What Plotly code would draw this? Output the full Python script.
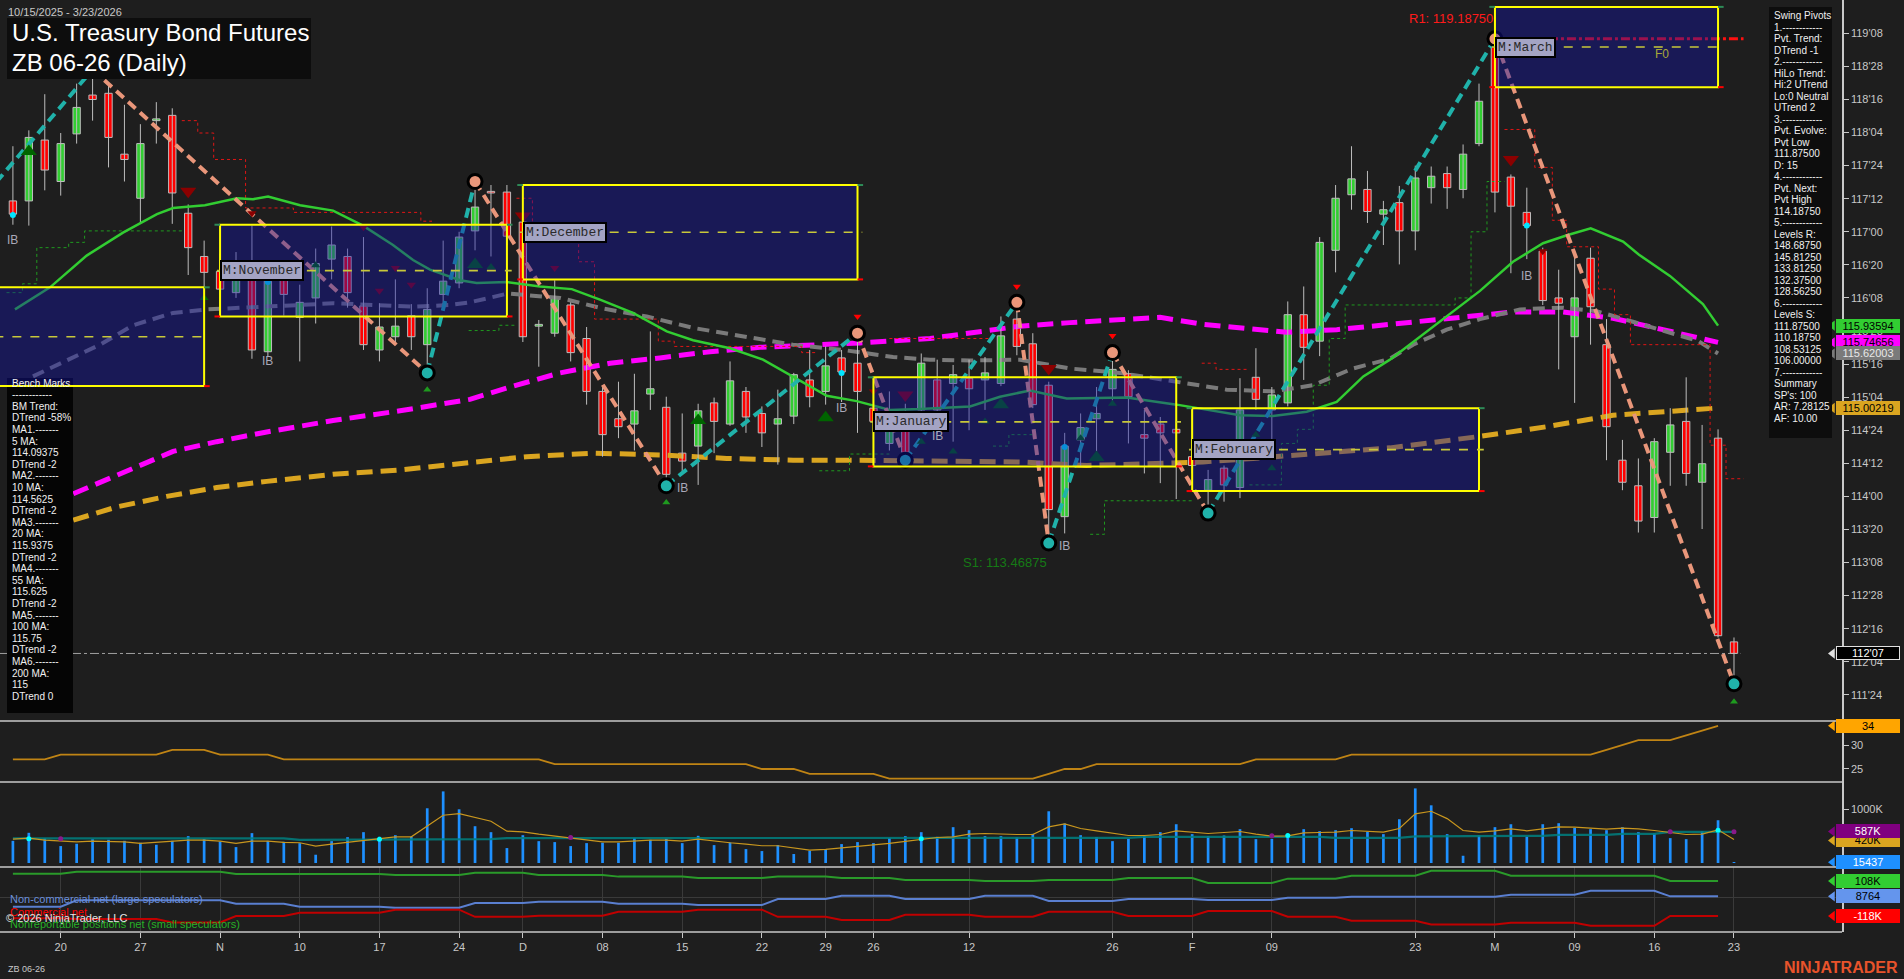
import plotly.graph_objects as go

# ------------------------------------------------------------------ DATA
date_range_text = "10/15/2025 - 3/23/2026"
title_line1 = "U.S. Treasury Bond Futures"
title_line2 = "ZB 06-26 (Daily)"

tick_idx = [3, 8, 13, 18, 23, 28, 32, 37, 42, 47, 51, 54, 60, 69, 74, 79, 88, 93, 98, 103, 108]
tick_text = ["20", "27", "N", "10", "17", "24", "D", "08", "15", "22", "29", "26", "12", "26", "F", "09",
             "23", "M", "09", "16", "23"]

opens = [117.35, 117.35, 118.04, 117.57, 118.11, 118.55, 118.57, 117.88, 117.38, 118.26,
         118.32, 117.21, 116.72, 116.55, 116.31, 116.51, 115.64, 116.55, 116.03, 116.25,
         116.69, 116.72, 116.16, 115.66, 115.81, 116.05, 115.72, 116.29, 116.42, 117.01,
         117.45, 117.45, 117.11, 115.93, 115.85, 116.17, 115.79, 115.19, 114.88, 114.82,
         115.16, 115.01, 114.49, 114.57, 115.06, 114.82, 115.19, 114.94, 114.82, 114.91,
         115.32, 115.19, 115.57, 115.51, 115.00, 114.60, 114.75, 114.98, 115.32, 115.28,
         115.34, 115.32, 115.28, 116.01, 115.73, 115.26, 113.77, 114.64, 114.88, 115.22,
         115.39, 114.70, 114.82, 114.76, 114.45, 114.07, 114.32, 114.10, 115.35, 114.98,
         115.06, 116.06, 115.76, 116.79, 117.42, 117.48, 117.20, 117.33, 117.01, 117.50,
         117.66, 117.48, 118.00, 119.16, 117.62, 117.22, 116.78, 116.25, 115.81, 116.70,
         115.72, 114.41, 114.12, 113.76, 114.50, 114.85, 114.16, 114.66, 112.35]
highs = [117.97, 118.15, 118.56, 118.12, 118.68, 118.84, 118.68, 118.44, 118.22, 118.47,
         118.40, 117.31, 116.90, 116.75, 116.77, 117.07, 116.50, 116.68, 116.40, 116.81,
         117.06, 116.81, 116.94, 116.19, 116.46, 116.18, 116.36, 116.90, 117.00, 117.57,
         117.53, 117.53, 117.15, 116.00, 116.45, 116.20, 115.92, 115.24, 115.30, 115.39,
         115.87, 115.13, 114.94, 115.05, 115.12, 115.53, 115.24, 115.02, 115.21, 115.40,
         115.66, 115.70, 115.66, 115.85, 115.30, 115.19, 115.05, 115.62, 115.55, 115.49,
         115.55, 115.58, 116.04, 116.20, 115.85, 115.30, 114.72, 114.94, 115.24, 115.63,
         115.43, 114.98, 114.90, 114.85, 114.98, 114.30, 114.35, 115.34, 115.68, 115.24,
         116.21, 116.38, 116.94, 117.53, 117.97, 117.69, 117.35, 117.52, 117.75, 117.74,
         117.74, 117.99, 118.68, 119.1875, 117.65, 117.50, 116.82, 116.57, 116.71, 116.82,
         116.01, 114.64, 114.43, 114.66, 115.00, 115.35, 114.81, 114.76, 112.40]
lows = [117.08, 117.07, 117.47, 117.41, 118.00, 118.26, 117.73, 117.57, 117.09, 118.00,
        117.09, 116.51, 116.38, 116.10, 116.25, 115.56, 115.59, 116.05, 115.53, 115.96,
        116.46, 116.14, 115.66, 115.53, 115.72, 115.66, 115.40, 116.18, 116.36, 116.79,
        116.72, 116.85, 115.75, 115.47, 115.81, 115.53, 115.04, 114.45, 114.66, 114.52,
        114.98, 114.12, 114.28, 114.13, 114.49, 114.80, 114.72, 114.56, 114.36, 114.82,
        115.01, 115.04, 115.07, 114.72, 114.65, 114.52, 114.41, 114.95, 114.71, 114.62,
        114.75, 114.98, 115.25, 115.60, 115.00, 113.47, 113.58, 114.34, 114.49, 115.05,
        114.60, 114.26, 114.15, 113.97, 114.26, 113.81, 113.94, 113.98, 114.98, 114.55,
        115.02, 115.32, 115.59, 116.54, 117.25, 117.10, 116.85, 116.63, 116.79, 117.32,
        117.26, 117.38, 117.97, 117.22, 116.53, 116.69, 116.17, 115.44, 115.06, 115.72,
        114.41, 114.07, 113.59, 113.59, 114.12, 114.12, 113.63, 112.40, 111.875]
closes = [117.20, 118.07, 117.70, 118.00, 118.41, 118.50, 118.07, 117.82, 118.00, 118.28,
          117.44, 116.82, 116.54, 116.35, 116.51, 115.66, 116.44, 116.29, 116.20, 116.64,
          116.85, 116.31, 115.72, 115.92, 115.93, 115.81, 116.12, 116.44, 116.94, 117.28,
          117.44, 116.95, 115.81, 115.95, 116.26, 115.63, 115.19, 114.70, 114.79, 114.97,
          115.22, 114.25, 114.40, 114.97, 114.85, 115.31, 114.90, 114.72, 114.88, 115.38,
          115.13, 115.48, 115.41, 115.19, 114.85, 114.94, 114.50, 115.51, 114.98, 115.38,
          115.22, 115.40, 115.82, 115.70, 115.04, 113.85, 114.57, 114.78, 114.94, 115.44,
          115.13, 114.66, 114.72, 114.72, 114.35, 114.19, 114.13, 114.98, 115.10, 115.15,
          116.06, 115.69, 116.88, 117.38, 117.60, 117.23, 117.25, 117.01, 117.61, 117.63,
          117.50, 117.88, 118.48, 117.45, 117.29, 117.07, 116.22, 116.19, 116.25, 116.15,
          114.79, 114.16, 113.72, 114.62, 114.81, 114.26, 114.37, 112.42, 112.22]

# volume (thousands)
volume_k = [413, 562, 457, 315, 358, 444, 432, 413, 377, 340,
            413, 500, 444, 401, 296, 556, 413, 395, 370, 154,
            407, 481, 574, 488, 518, 488, 1019, 1333, 1000, 685,
            574, 278, 518, 407, 389, 315, 370, 377, 377, 463,
            432, 450, 370, 506, 333, 383, 259, 222, 333, 167,
            228, 259, 352, 389, 370, 463, 500, 574, 488, 667,
            611, 500, 500, 475, 543, 963, 734, 518, 481, 407,
            450, 500, 574, 722, 537, 500, 512, 630, 444, 450,
            512, 630, 593, 611, 648, 580, 537, 815, 1389, 1074,
            537, 135, 512, 667, 722, 488, 722, 741, 654, 630,
            611, 667, 574, 549, 463, 444, 593, 796, 15.437]
vol_avg_fast = [444, 463, 426, 413, 395, 407, 407, 395, 364, 383,
                395, 426, 426, 407, 364, 407, 407, 383, 377, 315,
                352, 389, 426, 463, 488, 488, 685, 889, 920, 846,
                778, 593, 580, 537, 500, 457, 426, 395, 395, 413,
                426, 426, 407, 444, 407, 377, 352, 321, 321, 278,
                241, 253, 278, 315, 340, 364, 401, 438, 475, 488,
                537, 549, 537, 531, 531, 673, 728, 642, 599, 549,
                512, 512, 531, 599, 574, 549, 568, 586, 537, 500,
                506, 562, 568, 574, 605, 593, 574, 642, 914, 963,
                827, 605, 574, 599, 636, 599, 636, 673, 667, 648,
                630, 648, 636, 605, 574, 531, 537, 617, 438]
vol_avg_slow = [457, 457, 457, 457, 457, 457, 457, 457, 457, 457,
                457, 457, 457, 457, 457, 457, 457, 457, 432, 432,
                432, 432, 432, 444, 444, 444, 444, 444, 444, 444,
                444, 463, 463, 463, 463, 463, 463, 463, 463, 463,
                457, 457, 457, 457, 457, 457, 457, 457, 457, 457,
                457, 457, 457, 463, 463, 463, 463, 463, 463, 463,
                463, 469, 469, 469, 469, 469, 469, 469, 469, 469,
                469, 488, 488, 488, 488, 488, 488, 488, 488, 488,
                500, 488, 488, 469, 469, 469, 469, 469, 494, 494,
                494, 494, 494, 506, 506, 506, 506, 524, 524, 524,
                524, 543, 543, 543, 580, 580, 580, 580, 580]
vol_dot_cyan_idx = [1, 23, 57, 80, 107]
vol_dot_cyan_val = [450, 444, 450, 512, 611]
vol_dot_purple_idx = [3, 35, 79, 104, 108]
vol_dot_purple_val = [450, 475, 506, 580, 580]

# second panel oscillator
osc = [27, 27, 27, 28, 28, 28, 28, 28, 28, 28,
       29, 29, 29, 28, 28, 28, 28, 27, 27, 27,
       27, 27, 27, 27, 27, 27, 27, 27, 27, 27,
       27, 27, 27, 27, 26, 26, 26, 26, 26, 26,
       26, 26, 26, 26, 26, 26, 26, 25, 25, 25,
       24, 24, 24, 24, 24, 23, 23, 23, 23, 23,
       23, 23, 23, 23, 23, 24, 25, 25, 26, 26,
       26, 26, 26, 26, 26, 26, 26, 26, 27, 27,
       27, 27, 27, 27, 28, 28, 28, 28, 28, 28,
       28, 28, 28, 28, 28, 28, 28, 28, 28, 28,
       29, 30, 31, 31, 31, 32, 33, 34]

# COT weekly net positions (thousands), week start bar indices
cot_breaks = [0, 4, 10, 14, 18, 24, 29, 33, 38, 43, 48, 52, 56, 61, 65, 70, 75, 80, 84, 89, 94, 99, 104]
cot_last_bar = 107
cot_large = [-58, -17, -17, -39, -58, -65, -34, -26, -39, -47, -8, 13, -8, 13, -21, -8, -15, 0, 6, 6, 19, 45, 8.764]
cot_commercial = [-133, -138, -159, -118, -97, -77, -123, -116, -90, -77, -123, -144, -110, -123, -90, -118,
                  -86, -123, -148, -172, -161, -181, -118]
cot_small = [155, 168, 168, 153, 153, 147, 161, 147, 136, 127, 136, 127, 114, 108, 114, 127, 95, 123, 142,
             174, 142, 142, 108]

# moving averages (bar index, value)
ma20_idx = [0.13, 2.33, 4.63, 6.91, 9.04, 10.05, 12.05, 14.06, 15.07, 16.01, 18.02, 20.09, 21.97, 23.85,
            25.11, 26.17, 28.06, 29.1, 30.99, 33.08, 35.07, 36.84, 38.91, 41.03, 42.68, 45.0, 47.07, 48.95,
            51.07, 52.95, 55.04, 56.92, 60.06, 61.94, 63.82, 66.13, 69.89, 73.03, 77.0, 79.07, 81.19, 83.07,
            84.74, 86.41, 87.86, 89.97, 92.06, 94.13, 96.02, 97.52, 99.01, 101.04, 102.04, 103.98, 106.05,
            107.0]
ma20_val = [116.12, 116.37, 116.73, 116.99, 117.20, 117.27, 117.30, 117.38, 117.37, 117.40, 117.30, 117.24,
            117.07, 116.85, 116.68, 116.57, 116.45, 116.42, 116.43, 116.38, 116.35, 116.23, 116.08, 115.87,
            115.77, 115.68, 115.55, 115.36, 115.14, 115.08, 114.98, 114.99, 115.02, 115.13, 115.20, 115.11,
            115.12, 115.04, 114.92, 114.91, 114.96, 115.07, 115.36, 115.55, 115.75, 116.04, 116.33, 116.66,
            116.87, 116.96, 117.04, 116.89, 116.74, 116.50, 116.18, 115.93594]
ma55_idx = [1.26, 5.47, 7.54, 10.05, 12.16, 15.07, 18.02, 20.09, 22.2, 25.11, 27.43, 28.68, 31.07, 34.33,
            37.03, 39.77, 42.68, 45.82, 48.95, 52.09, 55.23, 57.55, 60.06, 63.2, 66.33, 69.47, 73.66, 76.17,
            79.07, 81.58, 84.09, 86.41, 87.86, 89.97, 92.06, 94.57, 97.27, 99.38, 101.66, 104.17, 105.76,
            107.0]
ma55_val = [115.36, 115.72, 115.94, 116.08, 116.12, 116.14, 116.17, 116.19, 116.17, 116.15, 116.17, 116.20,
            116.30, 116.25, 116.13, 116.04, 115.91, 115.81, 115.72, 115.66, 115.58, 115.55, 115.54, 115.55,
            115.45, 115.40, 115.28, 115.21, 115.19, 115.26, 115.45, 115.56, 115.72, 115.89, 116.01, 116.12,
            116.14, 116.10, 115.98, 115.85, 115.76, 115.62003]
ma100_idx = [3.79, 5.47, 7.54, 10.05, 12.79, 15.93, 20.09, 24.29, 28.68, 31.19, 34.33, 37.47, 40.6, 43.74,
             46.88, 50.02, 53.16, 57.55, 60.06, 63.2, 66.33, 69.47, 71.98, 74.68, 77.82, 79.93, 83.07, 86.41,
             89.97, 94.13, 97.27, 100.41, 103.55, 107.0]
ma100_val = [114.03, 114.16, 114.33, 114.51, 114.62, 114.73, 114.86, 114.97, 115.10, 115.24, 115.40, 115.51,
             115.57, 115.64, 115.69, 115.71, 115.74, 115.79, 115.85, 115.93, 115.97, 116.01, 116.03, 115.95,
             115.89, 115.86, 115.89, 115.95, 116.02, 116.09, 116.09, 116.02, 115.89, 115.74656]
ma200_idx = [3.79, 6.51, 9.65, 12.79, 15.93, 20.09, 24.29, 28.05, 32.24, 36.4, 40.6, 44.79, 48.95, 53.16,
             57.55, 63.2, 67.38, 71.54, 74.68, 77.82, 82.02, 86.41, 92.06, 96.25, 100.41, 104.61, 107.0]
ma200_val = [113.73, 113.88, 114.00, 114.10, 114.17, 114.25, 114.30, 114.37, 114.45, 114.49, 114.47, 114.43,
             114.41, 114.41, 114.40, 114.39, 114.35, 114.37, 114.39, 114.43, 114.49, 114.55, 114.68, 114.79,
             114.92, 114.98, 115.00219]

# swing pivots (first one is the prior, off-screen low)
piv_idx = [-3, 5, 26, 29, 41, 53, 56, 63, 65, 69, 75, 93, 108]
piv_val = [117.15, 118.84, 115.40, 117.57, 114.12, 115.85, 114.41, 116.20, 113.47, 115.63, 113.81,
           119.1875, 111.875]
r1_level = 119.1875
s1_level = 113.46875
s1_idx = 65
last_price = 112.21875

# monthly range boxes (first bar, last bar, high, low, name)
box_first = [-10, 13, 32, 54, 74, 93]
box_last = [12, 31, 53, 73, 92, 107]
box_high = [116.37, 117.08, 117.53, 115.35, 115.00, 119.55]
box_low = [115.25, 116.04, 116.46, 114.34, 114.06, 118.64]
box_name = ["", "M:November", "M:December", "M:January", "M:February", "M:March"]

# markers
ib_idx = [0, 16, 42, 52, 58, 66, 95]
ib_val = [116.91, 115.53, 114.09, 115.00, 114.68, 113.44, 116.50]
dn_big_idx = [11, 32, 56, 65, 94]
dn_big_val = [117.46, 117.18, 115.15, 115.45, 117.82]
dn_small_idx = [15, 22, 23, 24, 25, 34, 54, 96]
dn_small_val = [117.21, 117.05, 116.33, 116.59, 116.40, 116.59, 115.19, 116.78]
up_big_idx = [1, 29, 43, 51, 62, 68]
up_big_val = [117.91, 116.63, 114.86, 114.89, 115.04, 114.44]
up_small_idx = [12, 19, 30, 57, 59, 61, 67, 69, 78, 79]
up_small_val = [116.25, 116.62, 116.60, 114.62, 114.51, 114.85, 114.66, 115.05, 114.70, 114.32]
ph_flag_idx = [53, 63, 69]
ph_flag_val = [116.04, 116.38, 115.82]
pl_flag_idx = [26, 41, 108]
pl_flag_val = [115.21, 113.93, 111.67]
cyan_dot_idx = [0, 16, 52, 66, 95]
cyan_dot_val = [117.19, 116.43, 115.40, 114.56, 117.07]

# trailing stop steps (bar index, level)
stop_red = [
    ([10.6, 11.6, 12.6, 14.6, 17.6, 25.6, 26.3], [118.26, 118.12, 117.82, 117.27, 117.22, 117.12, 117.12]),
    ([31.6, 32.6, 35.5, 36.5, 40.5, 41.5, 49.5, 50.5], [117.38, 116.98, 116.66, 116.01, 115.76, 115.70, 115.63, 115.63]),
    ([55.0, 61.5], [115.79, 115.79]),
    ([74.6, 75.5, 77.6], [115.51, 115.44, 115.44]),
    ([93.6, 95.5, 96.6, 97.5, 99.5, 100.5, 101.5, 106.5, 107.5, 108.6],
     [118.16, 117.73, 117.13, 116.83, 116.35, 116.06, 115.72, 114.58, 114.20, 114.20]),
]
stop_green = [
    ([-0.4, 0.6, 1.5, 3.5, 4.5, 10.6], [116.31, 116.41, 116.82, 116.88, 117.01, 117.01]),
    ([28.6, 30.5, 31.5], [115.88, 115.94, 115.94]),
    ([50.6, 52.5, 53.5, 55.0], [114.29, 114.48, 114.48, 114.48]),
    ([61.5, 62.5, 64.1], [114.57, 114.70, 114.70]),
    ([67.6, 68.5, 74.1], [113.57, 113.95, 113.95]),
    ([77.6, 79.6, 80.6, 81.6, 82.6, 83.6, 90.5, 91.5, 92.5, 93.6],
     [114.13, 114.60, 114.76, 115.26, 115.79, 116.17, 116.25, 117.00, 117.57, 117.57]),
]

# right price scale ticks (32nds)
price_ticks = [111.75, 112.125, 112.5, 112.875, 113.25, 113.625, 114.0, 114.375, 114.75, 115.125, 115.5,
               115.875, 116.25, 116.625, 117.0, 117.375, 117.75, 118.125, 118.5, 118.875, 119.25]
price_tick_text = ["111'24", "112'04", "112'16", "112'28", "113'08", "113'20", "114'00", "114'12", "114'24",
                   "115'04", "115'16", "115'28", "116'08", "116'20", "117'00", "117'12", "117'24", "118'04",
                   "118'16", "118'28", "119'08"]

swing_text = ["Swing Pivots", "1.------------", "Pvt. Trend:", "DTrend -1", "2.------------", "HiLo Trend:",
              "Hi:2 UTrend", "Lo:0 Neutral", "UTrend 2", "3.------------", "Pvt. Evolve:", "Pvt Low",
              "111.87500", "D: 15", "4.------------", "Pvt. Next:", "Pvt High", "114.18750", "5.------------",
              "Levels R:", "148.68750", "145.81250", "133.81250", "132.37500", "128.56250", "6.------------",
              "Levels S:", "111.87500", "110.18750", "108.53125", "106.00000", "7.------------", "Summary",
              "SP's: 100", "AR: 7.28125", "AF: 10.00"]
bench_text = ["Bench Marks", "------------", "BM Trend:", "DTrend -58%", "MA1.-------", "5 MA:", "114.09375",
              "DTrend -2", "MA2.-------", "10 MA:", "114.5625", "DTrend -2", "MA3.-------", "20 MA:",
              "115.9375", "DTrend -2", "MA4.-------", "55 MA:", "115.625", "DTrend -2", "MA5.-------",
              "100 MA:", "115.75", "DTrend -2", "MA6.-------", "200 MA:", "115", "DTrend 0"]

# ------------------------------------------------------------------ STYLE / LAYOUT HELPERS
W_PLOT, H_PLOT = 1842, 932
BAR_PX, BAR0_PX = 15.936, 12.9
BG = "#1e1e1e"
FONT = "Liberation Sans, Arial, sans-serif"
MONO = "Liberation Mono, Courier New, monospace"
AXC = "#c8c8c8"
SALMON, TEAL = "#E9967A", "#20B2AA"


def pxx(x):
    return x / W_PLOT


def pxy(y):
    return 1 - y / H_PLOT


def px_to_idx(x):
    return (x - BAR0_PX) / BAR_PX


X_RANGE = [px_to_idx(0), px_to_idx(W_PLOT)]
D_MAIN = [pxy(721), 1]
D_OSC = [pxy(782), pxy(721)]
D_VOL = [pxy(867), pxy(782)]
D_COT = [0, pxy(867)]

n = len(opens)
bars = list(range(n))

fig = go.Figure()


def add(tr, xa="x", ya="y"):
    tr.update(xaxis=xa, yaxis=ya, hoverinfo="skip", showlegend=False)
    fig.add_trace(tr)


# --- moving averages (under candles)
add(go.Scatter(x=ma200_idx, y=ma200_val, mode="lines", line=dict(color="#DAA520", width=5, dash="16px,8px")))
add(go.Scatter(x=ma100_idx, y=ma100_val, mode="lines", line=dict(color="#FF00FF", width=5, dash="16px,8px")))
add(go.Scatter(x=ma55_idx, y=ma55_val, mode="lines", line=dict(color="#7a7a7a", width=4, dash="12px,7px")))

# --- trailing stops
for xs, ys in stop_red:
    add(go.Scatter(x=xs, y=ys, mode="lines", line=dict(color="#e01515", width=1, dash="dot", shape="hv")))
for xs, ys in stop_green:
    add(go.Scatter(x=xs, y=ys, mode="lines", line=dict(color="#1f9a1f", width=1, dash="dot", shape="hv")))

# --- candles
wx, wy = [], []
for i in bars:
    wx += [i, i, None]
    wy += [lows[i], highs[i], None]
add(go.Scatter(x=wx, y=wy, mode="lines", line=dict(color="#bdbdbd", width=1)))
up = [i for i in bars if closes[i] >= opens[i]]
dn = [i for i in bars if closes[i] < opens[i]]
for ids, col in ((up, "#32CD32"), (dn, "#FF0000")):
    add(go.Bar(x=ids, y=[max(abs(closes[i] - opens[i]), 0.018) for i in ids],
               base=[min(opens[i], closes[i]) for i in ids], width=0.46,
               marker=dict(color=col, line=dict(color="#bdbdbd", width=1))))

add(go.Scatter(x=ma20_idx, y=ma20_val, mode="lines", line=dict(color="#32CD32", width=2.5)))

# --- swing legs
for k in range(len(piv_idx) - 1):
    y0, y1 = piv_val[k], piv_val[k + 1]
    add(go.Scatter(x=[piv_idx[k], piv_idx[k + 1]], y=[y0, y1], mode="lines",
                   line=dict(color=SALMON if y1 < y0 else TEAL, width=4, dash="10px,6px")))

# R1 line
add(go.Scatter(x=[piv_idx[-2], n - 1 + 0.6], y=[r1_level, r1_level], mode="lines",
               line=dict(color="#ff1010", width=3, dash="dashdot")))

# markers
add(go.Scatter(x=dn_big_idx, y=dn_big_val, mode="markers",
               marker=dict(symbol="triangle-down", size=14, color="#8B0000")))
add(go.Scatter(x=dn_small_idx, y=dn_small_val, mode="markers",
               marker=dict(symbol="triangle-down", size=8, color="#8B0000")))
add(go.Scatter(x=up_big_idx, y=up_big_val, mode="markers",
               marker=dict(symbol="triangle-up", size=14, color="#006400")))
add(go.Scatter(x=up_small_idx, y=up_small_val, mode="markers",
               marker=dict(symbol="triangle-up", size=8, color="#006400")))
add(go.Scatter(x=ph_flag_idx, y=ph_flag_val, mode="markers",
               marker=dict(symbol="triangle-down", size=7, color="#ff0000")))
add(go.Scatter(x=pl_flag_idx, y=pl_flag_val, mode="markers",
               marker=dict(symbol="triangle-up", size=7, color="#1f9a1f")))
add(go.Scatter(x=cyan_dot_idx, y=cyan_dot_val, mode="markers",
               marker=dict(symbol="circle", size=6, color="#00e5ff")))
hi_i = [k for k in range(1, len(piv_idx)) if piv_val[k] > piv_val[k - 1]]
lo_i = [k for k in range(1, len(piv_idx)) if piv_val[k] < piv_val[k - 1]]
add(go.Scatter(x=[piv_idx[k] for k in hi_i], y=[piv_val[k] for k in hi_i], mode="markers",
               marker=dict(size=14, color=SALMON, line=dict(color="black", width=3))))
add(go.Scatter(x=[piv_idx[k] for k in lo_i], y=[piv_val[k] for k in lo_i], mode="markers",
               marker=dict(size=14, color=TEAL, line=dict(color="black", width=3))))

# --- oscillator panel
add(go.Scatter(x=bars[:len(osc)], y=osc, mode="lines", line=dict(color="#c08414", width=1.8)), "x2", "y2")

# --- volume panel
add(go.Bar(x=bars, y=volume_k, width=0.17, marker=dict(color="#1E90FF", line=dict(width=0))), "x3", "y3")
add(go.Scatter(x=bars, y=vol_avg_slow, mode="lines", line=dict(color="rgba(0,128,128,0.85)", width=2.2)),
    "x3", "y3")
add(go.Scatter(x=bars, y=vol_avg_fast, mode="lines", line=dict(color="#c8961e", width=1.2)), "x3", "y3")
add(go.Scatter(x=vol_dot_cyan_idx, y=vol_dot_cyan_val, mode="markers",
               marker=dict(size=5, color="#00ffff")), "x3", "y3")
add(go.Scatter(x=vol_dot_purple_idx, y=vol_dot_purple_val, mode="markers",
               marker=dict(size=5, color="#8a1a8a")), "x3", "y3")

# --- COT panel


def cot_points(vals):
    xs, ys = [], []
    for k, v in enumerate(vals):
        s = cot_breaks[k]
        e = cot_breaks[k + 1] - 1 if k + 1 < len(cot_breaks) else cot_last_bar
        xs += [s, e]
        ys += [v, v]
    return xs, ys


for vals, col in ((cot_small, "#2a9a2a"), (cot_large, "#5a7fd0"), (cot_commercial, "#c00000")):
    xs, ys = cot_points(vals)
    add(go.Scatter(x=xs, y=ys, mode="lines", line=dict(color=col, width=2)), "x4", "y4")

# ------------------------------------------------------------------ SHAPES
shapes = []
# current price line
shapes.append(dict(type="line", xref="x", yref="y", x0=X_RANGE[0], x1=n - 1 + 0.4, y0=last_price,
                   y1=last_price, line=dict(color="#a0a0a0", width=1, dash="dashdot"), layer="below"))
# title box, info boxes
shapes.append(dict(type="rect", xref="paper", yref="paper", x0=pxx(7), x1=pxx(311), y0=pxy(79), y1=pxy(18),
                   fillcolor="#0d0d0d", line=dict(width=0), layer="above"))
shapes.append(dict(type="rect", xref="paper", yref="paper", x0=pxx(7), x1=pxx(73), y0=pxy(713), y1=pxy(378),
                   fillcolor="#050505", line=dict(width=0), layer="above"))
shapes.append(dict(type="rect", xref="paper", yref="paper", x0=pxx(1769), x1=pxx(1832), y0=pxy(438),
                   y1=pxy(7), fillcolor="#0d0d0d", line=dict(width=0), layer="above"))
# monthly boxes
for f, l, hi, lo in zip(box_first, box_last, box_high, box_low):
    mid = (hi + lo) / 2
    shapes.append(dict(type="rect", xref="x", yref="y", x0=f, x1=l, y0=lo, y1=hi,
                       fillcolor="rgba(20,20,165,0.42)", line=dict(color="#FFFF00", width=2), layer="above"))
    shapes.append(dict(type="line", xref="x", yref="y", x0=f - 0.2, x1=l + 0.3, y0=mid, y1=mid,
                       line=dict(color="#c8c83a", width=1.6, dash="dash"), layer="above"))
    for xa, xb in ((f - 0.35, f), (l, l + 0.35)):
        shapes.append(dict(type="line", xref="x", yref="y", x0=xa, x1=xb, y0=hi, y1=hi,
                           line=dict(color="#2e8b57", width=2), layer="above"))
        shapes.append(dict(type="line", xref="x", yref="y", x0=xa, x1=xb, y0=lo, y1=lo,
                           line=dict(color="#ff0000", width=2), layer="above"))
# panel separators
for yy in (721, 782, 867, 932):
    shapes.append(dict(type="line", xref="paper", yref="paper", x0=0, x1=1, y0=pxy(yy), y1=pxy(yy),
                       line=dict(color=AXC, width=1.5), layer="above"))

# ------------------------------------------------------------------ ANNOTATIONS
ann = []


def text(x, y, s, size=10, color="#e6e6e6", anchor="left", family=FONT, **kw):
    d = dict(xref="paper", yref="paper", x=pxx(x), y=pxy(y), text=s, showarrow=False, xanchor=anchor,
             yanchor="middle", font=dict(size=size, color=color, family=family))
    d.update(kw)
    ann.append(d)


text(6, 11.5, date_range_text, size=11, color=AXC)
text(10, 33, title_line1, size=24, color="#ffffff")
text(10, 62, title_line2, size=24, color="#ffffff")
for i, s in enumerate(swing_text):
    text(1772, 15.7 + 11.5 * i, s, size=10, color="#f0f0f0")
for i, s in enumerate(bench_text):
    text(10, 383 + 11.6 * i, s, size=10, color="#f0f0f0")

text(8, 899.3, "Non-commercial net (large speculators)", size=11, color="#6a8fdc")
text(8, 911.7, "Commercial net", size=11, color="#ff0000")
text(4, 917.7, "© 2026 NinjaTrader, LLC", size=11, color="#e6e6e6")
text(8, 924, "Nonreportable positions net (small speculators)", size=11, color="#26b026")
text(6, 969, "ZB 06-26", size=9, color=AXC)
text(1900, 968, "<b>NINJATRADER</b>", size=16, color="#e8532b", anchor="right")

# box labels
for f, hi, lo, name in zip(box_first, box_high, box_low, box_name):
    if name:
        ann.append(dict(xref="x", yref="y", x=f, y=(hi + lo) / 2, text=name, showarrow=False, xanchor="left",
                        yanchor="middle", bgcolor="#a4a4c4", bordercolor="#000000", borderwidth=2, borderpad=1,
                        font=dict(size=13, color="#2a2a2a", family=MONO)))
ann.append(dict(xref="x", yref="y", x=box_first[-1] + 10.5, y=(box_high[-1] + box_low[-1]) / 2, yshift=-7,
                text="F0", showarrow=False, font=dict(size=12, color="#a8a838", family=FONT)))
ann.append(dict(xref="x", yref="y", x=piv_idx[-2], y=r1_level, yshift=20, xanchor="right", showarrow=False,
                text="R1: 119.18750", font=dict(size=13, color="#ff1a1a", family=FONT)))
ann.append(dict(xref="x", yref="y", x=s1_idx, y=s1_level, yshift=-19, xanchor="right", showarrow=False,
                text="S1: 113.46875", font=dict(size=13, color="#157a15", family=FONT)))
for xi, yv in zip(ib_idx, ib_val):
    ann.append(dict(xref="x", yref="y", x=xi, y=yv, text="IB", showarrow=False,
                    font=dict(size=12, color="#a9a9b8", family=FONT)))


# right-hand value tags
def tag(yref, yv, s, bg, fg, border=None):
    ann.append(dict(xref="paper", yref=yref, x=pxx(1836), y=yv, xanchor="left", yanchor="middle", text=s,
                    showarrow=False, bgcolor=bg, bordercolor=border or bg, borderwidth=1, borderpad=0,
                    width=62, height=12, align="center", font=dict(size=11, color=fg, family=FONT)))
    add(go.Scatter(x=[px_to_idx(1832.5)], y=[yv], mode="markers", cliponaxis=False,
                   marker=dict(symbol="triangle-left", size=9, color=border or bg)),
        {"y": "x", "y2": "x2", "y3": "x3", "y4": "x4"}[yref], yref)


tag("y", ma20_val[-1], "115.93594", "#32CD32", "#000000")
tag("y", ma100_val[-1], "115.74656", "#FF00FF", "#000000")
tag("y", ma55_val[-1], "115.62003", "#7a7a7a", "#e8e8e8")
tag("y", ma200_val[-1], "115.00219", "#DAA520", "#000000")
tag("y", last_price, "112'07", "#000000", "#ffffff", border="#e0e0e0")
tag("y2", osc[-1], "34", "#FFA500", "#000000")
tag("y3", 420, "420K", "#DAA520", "#000000")
tag("y3", 587, "587K", "#800080", "#ffffff")
tag("y3", volume_k[-1], "15437", "#1E90FF", "#ffffff")
tag("y4", cot_small[-1], "108K", "#32CD32", "#000000")
tag("y4", cot_large[-1], "8764", "#6495ED", "#000000")
tag("y4", cot_commercial[-1], "-118K", "#FF0000", "#ffffff")

# ------------------------------------------------------------------ AXES
xcommon = dict(range=X_RANGE, showgrid=False, zeroline=False, showticklabels=False, fixedrange=True,
               showline=False, ticks="")
ycommon = dict(side="right", showgrid=False, zeroline=False, fixedrange=True, showline=True, linecolor=AXC,
               linewidth=1.5, ticks="outside", ticklen=5, tickcolor=AXC,
               tickfont=dict(size=11, color=AXC, family=FONT))

fig.update_layout(
    width=1904, height=979, margin=dict(l=0, r=62, t=0, b=47), paper_bgcolor=BG, plot_bgcolor=BG,
    barmode="overlay", showlegend=False, hovermode=False, font=dict(family=FONT, color=AXC),
    xaxis=dict(**xcommon, anchor="y", domain=[0, 1], rangeslider=dict(visible=False)),
    xaxis2=dict(**xcommon, anchor="y2", domain=[0, 1]),
    xaxis3=dict(**xcommon, anchor="y3", domain=[0, 1]),
    xaxis4=dict(range=X_RANGE, anchor="y4", domain=[0, 1], showgrid=True, gridcolor="#3a3a3a", gridwidth=1,
                zeroline=False, fixedrange=True, tickmode="array", tickvals=tick_idx, ticktext=tick_text,
                ticks="outside", ticklen=5, tickcolor=AXC, tickfont=dict(size=11, color=AXC, family=FONT)),
    yaxis=dict(**ycommon, anchor="x", domain=D_MAIN, range=[111.453, 119.628], tickmode="array",
               tickvals=price_ticks, ticktext=price_tick_text),
    yaxis2=dict(**ycommon, anchor="x2", domain=D_OSC, range=[22.29, 35.0], tickmode="array", tickvals=[25, 30]),
    yaxis3=dict(**ycommon, anchor="x3", domain=D_VOL, range=[-74.5, 1508], tickmode="array", tickvals=[1000],
                ticktext=["1000K"]),
    yaxis4=dict(side="right", anchor="x4", domain=D_COT, range=[-221, 198], showgrid=False, zeroline=True,
                zerolinecolor="#3a3a3a", zerolinewidth=1, showticklabels=False, fixedrange=True, showline=True,
                linecolor=AXC, linewidth=1.5, ticks=""),
    shapes=shapes, annotations=ann,
)

fig.write_html("out.html", config={"displayModeBar": False},
               post_script="document.body.style.margin='0';document.body.style.overflow='hidden';")
